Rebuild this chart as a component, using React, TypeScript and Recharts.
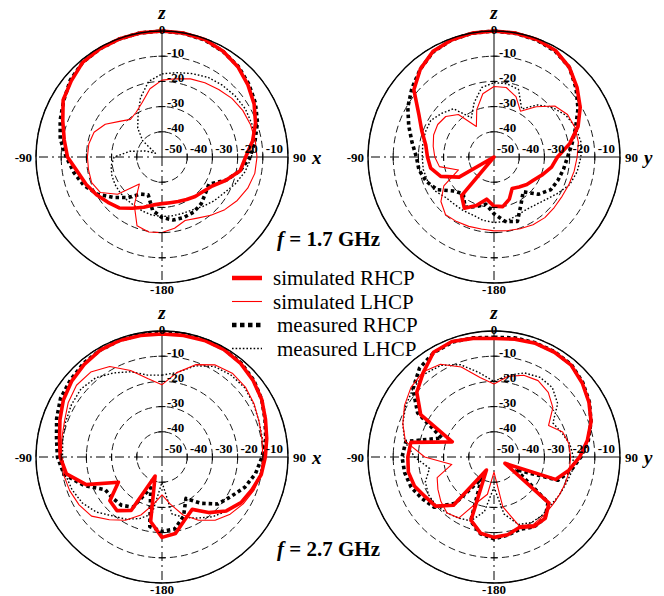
import { PolarAngleAxis, PolarGrid, PolarRadiusAxis, Radar, RadarChart } from "recharts";

// theta in degrees, 0 = zenith, clockwise (90 = +x / +y, 180 = -z, 270 = -90)
const angles = [0, 10, 20, 30, 40, 50, 60, 70, 80, 90, 100, 110, 120, 130, 140, 150, 160, 170, 180, 190, 200, 210, 220, 230, 240, 250, 260, 270, 280, 290, 300, 310, 320, 330, 340, 350];

// f = 1.7 GHz, xz-plane
const simRhcpA = [0, -0.1, -0.4, -1.5, -3.2, -5.5, -7.8, -10.5, -13.5, -16.8, -18.5, -23, -27, -28.7, -29.5, -30.5, -31.2, -31.6, -31.5, -30.7, -28.8, -26.5, -23.6, -22, -20, -18, -16, -12.5, -10.6, -8.1, -4.7, -3, -1, -0.5, -0.2, 0];
const simLhcpA = [-19.5, -18.5, -17, -16, -15, -13.8, -13, -12.6, -12.4, -12.3, -12.6, -13.8, -15.5, -17.5, -19.8, -22, -23.2, -21.3, -20, -19.8, -21, -28, -36, -27, -21.8, -20.3, -20.4, -20.4, -20.5, -21.3, -24, -28, -30.5, -29.5, -27, -22.5];
const measRhcpA = [0, -0.2, -0.6, -1.6, -3, -5, -7.2, -9.7, -12.5, -15, -18.5, -23, -28.5, -27.5, -25.8, -24.8, -24.5, -24.6, -26, -28.5, -34, -33, -29, -25, -20.5, -17, -14.5, -12, -9, -7, -5, -2.5, -1, -0.5, -0.2, 0];
const measLhcpA = [-17, -16, -14.8, -13.5, -12.8, -12.2, -11.8, -12, -13, -14.5, -16.5, -19, -21.5, -23, -24.5, -25.8, -26.2, -26.3, -26.4, -26.6, -27.2, -27.8, -28, -28.2, -28.4, -28.8, -29.5, -31, -37, -43, -47, -40, -35, -31, -25, -19.5];

// f = 1.7 GHz, yz-plane
const simRhcpB = [0, -0.1, -0.4, -1.2, -3.5, -7, -10.5, -14.5, -19.5, -24.8, -26.8, -29.5, -31.8, -33, -34.5, -35.6, -32.2, -30, -30.5, -33, -29.5, -26.5, -30, -50, -34, -27.5, -24.5, -23.6, -22.5, -19.5, -15.5, -8.5, -4.5, -1.6, -0.6, -0.1];
const simLhcpB = [-22, -22, -24.5, -29, -24, -18.5, -16.3, -15.8, -16, -17, -17.7, -18.3, -18.8, -18.8, -18.6, -19, -19.7, -20.3, -20.7, -21, -20.7, -20.4, -20.1, -22.5, -27, -35, -28, -26.5, -25.5, -24.5, -24.2, -25, -28, -36, -30, -24.5];
const measRhcpB = [0, -0.2, -0.6, -1.5, -3.5, -7.5, -11.5, -15.5, -18.5, -20.8, -22, -23, -24, -27, -32, -28.5, -22.8, -24, -27.5, -31, -29, -27, -31, -29, -24, -21.5, -19.8, -19.2, -17, -14, -10.5, -7.5, -4.5, -1.8, -0.6, -0.1];
const measLhcpB = [-20.5, -20.5, -21.5, -28, -23, -19.5, -17, -15.5, -15, -15.5, -16.5, -18, -21, -23.5, -25, -25.5, -25, -24, -24, -24.5, -25.5, -25.5, -25.5, -25, -23, -22, -21.5, -21.5, -21.3, -21, -21, -23, -25, -32, -27, -22];

// f = 2.7 GHz, xz-plane
const simRhcpC = [-1.2, -1, -0.8, -0.8, -1.5, -2.8, -4.3, -6.3, -7.8, -9, -10, -12, -13.8, -16.7, -21.2, -26, -23.5, -19.2, -18.1, -24, -42, -25.5, -22.2, -23, -30, -18, -11.5, -9.6, -8.7, -6.9, -4.8, -3.2, -2, -1, -0.8, -1];
const simLhcpC = [-21.3, -16, -11, -7.8, -6.6, -6.8, -7.8, -9, -9.7, -10, -10.1, -11.2, -12.8, -14.7, -17.2, -21, -25.5, -31, -35, -31, -25.5, -21, -17.5, -13.5, -12, -11, -10.3, -10.1, -9.6, -8.8, -7, -5.7, -6, -8.5, -13.5, -18.5];
const measRhcpC = [-0.5, -0.5, -0.5, -0.7, -1.2, -2.5, -4.3, -6.5, -8.2, -10.3, -12.3, -15, -18.5, -21, -26, -31, -25, -21, -20.5, -22, -37, -27, -25, -24.5, -24, -17, -10.5, -8.5, -7.5, -5.5, -3.5, -2.5, -1.5, -1, -0.8, -0.6];
const measLhcpC = [-17.5, -16, -11.5, -8.5, -7.5, -7.2, -8, -9, -9.5, -9.8, -10.5, -12, -14, -16.5, -19, -22, -24.5, -27, -40, -27, -24, -21.5, -19.5, -16, -13.5, -12, -11, -10.5, -10, -9.3, -8.5, -8, -9, -11.5, -14, -17];

// f = 2.7 GHz, yz-plane
const simRhcpD = [-3, -2.5, -2, -2, -2.4, -4.3, -6.5, -9, -12.4, -16, -19.8, -24, -45, -21.5, -18.3, -18.2, -20.3, -18.7, -18.1, -19.3, -23.3, -44, -25, -19.7, -18.5, -16.4, -15.5, -15.8, -16.5, -32.4, -16.4, -10, -6.3, -2, -1.2, -2.2];
const simLhcpD = [-21, -17.5, -15.5, -15, -16.5, -19.5, -25, -21, -19.8, -19.6, -19.6, -19.8, -20, -20, -19.5, -19, -21, -30, -44, -35, -31, -22, -21, -22.5, -24.3, -26, -33, -22.5, -14.3, -11.5, -9, -7, -6, -7.5, -12, -18];
const measRhcpD = [-2.5, -2, -1.8, -1.8, -2.2, -4, -6.3, -9, -12, -15.5, -19, -23, -40, -22, -18.5, -18, -19.5, -18.5, -17.5, -19, -23, -40, -26, -19, -17, -15, -14, -13.5, -14.5, -28, -15, -8, -4, -2.2, -1.5, -2];
const measLhcpD = [-20, -17, -14.5, -13.5, -14, -17, -23, -21.5, -19.5, -18.5, -18.5, -19.5, -20, -20.5, -20, -20, -21.5, -27, -38, -28, -23, -22, -21, -20, -20, -21, -24, -18.5, -14, -11.5, -9.5, -8, -7, -8, -11, -16];

const SERIF = '"Liberation Serif", "Times New Roman", serif';
const RED = "#ff0000";
const CX = 162;
const CY = 157;
const R = 126;

// drawing order: measured first, simulated on top
const series = [
  { key: "measL", name: "measured LHCP", color: "#000", width: 1.4, dash: "1.6 2" },
  { key: "measR", name: "measured RHCP", color: "#000", width: 3.6, dash: "3.5 3" },
  { key: "simL", name: "simulated LHCP", color: RED, width: 1.1, dash: undefined },
  { key: "simR", name: "simulated RHCP", color: RED, width: 3.6, dash: undefined },
];
const legendOrder = ["simR", "simL", "measR", "measL"];

const numStyle = { fontFamily: SERIF, fontWeight: 700, fontSize: 13, fill: "#000" };
const letterStyle = { fontFamily: SERIF, fontWeight: 700, fontStyle: "italic", fontSize: 19, fill: "#000" };

// ticks of the radius axis: labels on the upper and right half-axes, small cross marks on all four
const radiusTick = (p: any) => {
  const v = p.payload.value;
  if (v >= 0) return <g />;
  const r = CY - p.y;
  const inner = v <= -50;
  return (
    <g>
      {!inner && (
        <g stroke="#000" strokeWidth={1}>
          <line x1={CX - 3.5} x2={CX + 3.5} y1={CY - r} y2={CY - r} />
          <line x1={CX - 3.5} x2={CX + 3.5} y1={CY + r} y2={CY + r} />
          <line x1={CX + r} x2={CX + r} y1={CY - 3.5} y2={CY + 3.5} />
          <line x1={CX - r} x2={CX - r} y1={CY - 3.5} y2={CY + 3.5} />
        </g>
      )}
      {!inner && (
        <text x={CX + 5} y={CY - r - 4} dominantBaseline="central" textAnchor="start" style={numStyle}>{v}</text>
      )}
      <text x={CX + r + 11.5} y={CY - 8.5} dominantBaseline="central" textAnchor="middle" style={numStyle}>{v}</text>
    </g>
  );
};

const angleTick = (letter: string) => (p: any) => {
  const v = p.payload.value;
  if (v === 0)
    return (
      <g>
        <text x={CX} y={CY - 128} dominantBaseline="central" textAnchor="middle" style={numStyle}>0</text>
        <text x={CX} y={CY - 145} dominantBaseline="central" textAnchor="middle" style={letterStyle}>z</text>
      </g>
    );
  if (v === 90)
    return (
      <g>
        <text x={CX + 131} y={CY} dominantBaseline="central" textAnchor="start" style={numStyle}>90</text>
        <text x={CX + 150} y={CY} dominantBaseline="central" textAnchor="start" style={letterStyle}>{letter}</text>
      </g>
    );
  if (v === 180)
    return <text x={CX} y={CY + 132} dominantBaseline="central" textAnchor="middle" style={numStyle}>-180</text>;
  if (v === 270)
    return <text x={CX - 130} y={CY} dominantBaseline="central" textAnchor="end" style={numStyle}>-90</text>;
  return <g />;
};

function Panel({ left, top, height, letter, simR, simL, measR, measL }: any) {
  const data = angles.map((a, i) => ({ angle: a, simR: simR[i], simL: simL[i], measR: measR[i], measL: measL[i] }));
  return (
    <div style={{ position: "absolute", left, top }}>
      <RadarChart width={332} height={height} data={data} cx={CX} cy={CY} outerRadius={R} margin={{ top: 0, right: 0, bottom: 0, left: 0 }}>
        <PolarGrid gridType="circle" radialLines={false} stroke="#000" strokeWidth={0.9} strokeDasharray="7 4" />
        <PolarGrid gridType="circle" polarAngles={[0, 90]} polarRadius={[]} stroke="#000" strokeWidth={1} />
        <PolarGrid gridType="circle" polarAngles={[180, 270]} polarRadius={[]} stroke="#000" strokeWidth={1} strokeDasharray="9 4 2 4" />
        <PolarAngleAxis dataKey="angle" axisLineType="circle" axisLine={{ stroke: "#000", strokeWidth: 1.4 }} tickLine={false} tick={angleTick(letter)} />
        <PolarRadiusAxis domain={[-50, 0]} tickCount={6} type="number" angle={90} axisLine={false} stroke="#000" tick={radiusTick} />
        {series.map((s) => (
          <Radar
            key={s.key}
            name={s.name}
            dataKey={s.key}
            stroke={s.color}
            strokeWidth={s.width}
            strokeDasharray={s.dash}
            strokeLinejoin="round"
            fill="none"
            fillOpacity={0}
            dot={false}
            isAnimationActive={false}
          />
        ))}
      </RadarChart>
    </div>
  );
}

function Overlay() {
  const rows = legendOrder.map((k) => series.find((s) => s.key === k)!);
  return (
    <svg width={664} height={596} style={{ position: "absolute", left: 0, top: 0, pointerEvents: "none" }}>
      <text x={277} y={246} style={{ fontFamily: SERIF, fontWeight: 700, fontSize: 21 }}>
        <tspan fontStyle="italic">f</tspan> = 1.7 GHz
      </text>
      <text x={277} y={556} style={{ fontFamily: SERIF, fontWeight: 700, fontSize: 21 }}>
        <tspan fontStyle="italic">f</tspan> = 2.7 GHz
      </text>
      {rows.map((s, i) => {
        const y = 278 + i * 23.5;
        const measured = s.key.startsWith("meas");
        return (
          <g key={s.key}>
            <line
              x1={232}
              x2={262}
              y1={y}
              y2={y}
              stroke={s.color}
              strokeWidth={s.key === "measR" || s.key === "simR" ? 4.5 : s.width}
              strokeDasharray={s.key === "measR" ? "4.5 3.5" : s.dash}
            />
            <text x={measured ? 277 : 273} y={y} dominantBaseline="central" style={{ fontFamily: SERIF, fontSize: 21 }}>
              {s.name}
            </text>
          </g>
        );
      })}
    </svg>
  );
}

export default function App() {
  return (
    <div style={{ position: "absolute", left: 0, top: 0, width: 664, height: 596, background: "#fff", overflow: "hidden" }}>
      <Panel left={0} top={0} height={300} letter="x" simR={simRhcpA} simL={simLhcpA} measR={measRhcpA} measL={measLhcpA} />
      <Panel left={332} top={0} height={300} letter="y" simR={simRhcpB} simL={simLhcpB} measR={measRhcpB} measL={measLhcpB} />
      <Panel left={0} top={300} height={296} letter="x" simR={simRhcpC} simL={simLhcpC} measR={measRhcpC} measL={measLhcpC} />
      <Panel left={332} top={300} height={296} letter="y" simR={simRhcpD} simL={simLhcpD} measR={measRhcpD} measL={measLhcpD} />
      <Overlay />
    </div>
  );
}
